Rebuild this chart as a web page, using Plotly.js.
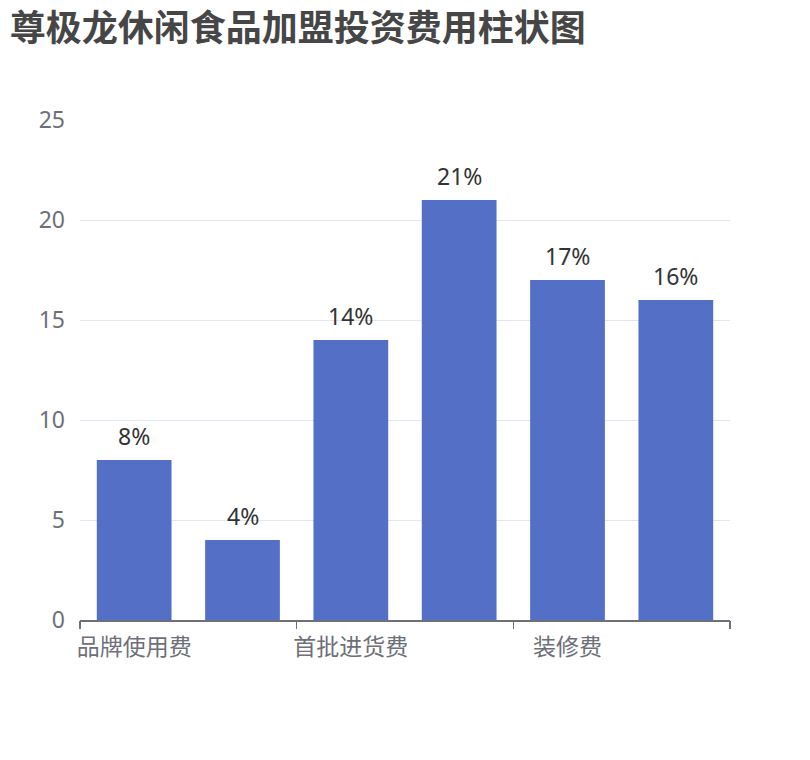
<!DOCTYPE html>
<html>
<head>
<meta charset="utf-8">
<script src="https://cdn.plot.ly/plotly-3.0.1.min.js"></script>
<style>
  html, body { margin: 0; padding: 0; background: #fff; }
  #chart { width: 810px; height: 760px; }
</style>
</head>
<body>
<div id="chart"></div>
<script>
// categories (odd ones are hidden by the label interval in the original)
let categories = ['品牌使用费', '加盟保证金', '首批进货费', '设备费', '装修费', '其他费用'];
let values = [8, 4, 14, 21, 17, 16];
let shownLabels = [0, 2, 4];
let tickBounds = [-0.5, 1.5, 3.5, 5.5];

let xs = categories.map((c, i) => i);
let fontFamily = '"Noto Sans", "Noto Sans CJK SC", sans-serif';

let bars = {
    x: xs,
    y: values,
    type: 'bar',
    marker: { color: '#5470c6' },
    hoverinfo: 'none'
};

// invisible trace so the second x axis (boundary ticks) exists
let tickHelper = {
    x: [tickBounds[0], tickBounds[tickBounds.length - 1]],
    y: [0, 0],
    xaxis: 'x2',
    mode: 'markers',
    marker: { opacity: 0 },
    hoverinfo: 'none',
    showlegend: false
};

// value labels above bars
let labels = values.map((v, i) => ({
    x: xs[i],
    y: v,
    text: v + '%',
    showarrow: false,
    yanchor: 'middle',
    yshift: 24,
    font: { family: fontFamily, size: 23, color: '#333' }
}));

let layout = {
    width: 810,
    height: 760,
    margin: { l: 80, r: 80, t: 120, b: 140 },
    paper_bgcolor: '#fff',
    plot_bgcolor: '#fff',
    showlegend: false,
    bargap: 0.31,
    annotations: labels,
    title: {
        text: '<b>尊极龙休闲食品加盟投资费用柱状图</b>',
        x: 0.012, xanchor: 'left',
        y: 0.963, yanchor: 'middle',
        font: { family: fontFamily, size: 36, color: '#464646' }
    },
    xaxis: {
        range: [-0.5, 5.5],
        tickvals: shownLabels,
        ticktext: shownLabels.map(i => categories[i]),
        ticks: '',
        showgrid: false,
        zeroline: false,
        showline: true,
        linecolor: '#6e7079',
        linewidth: 1.5,
        ticklabelstandoff: 6,
        tickfont: { family: fontFamily, size: 23, color: '#6e7079' },
        fixedrange: true
    },
    xaxis2: {
        overlaying: 'x',
        range: [-0.5, 5.5],
        tickvals: tickBounds,
        ticktext: tickBounds.map(() => ''),
        ticks: 'outside',
        ticklen: 8,
        tickcolor: '#6e7079',
        tickwidth: 1.5,
        showgrid: false,
        zeroline: false,
        showline: false,
        anchor: 'y',
        side: 'bottom'
    },
    yaxis: {
        range: [0, 25],
        dtick: 5,
        gridcolor: '#e0e6f1',
        gridwidth: 1,
        zeroline: false,
        showline: false,
        ticks: '',
        ticklabelstandoff: 14,
        tickfont: { family: fontFamily, size: 23, color: '#6e7079' },
        fixedrange: true
    }
};

Plotly.newPlot('chart', [bars, tickHelper], layout, { displayModeBar: false, staticPlot: true });
</script>
</body>
</html>
